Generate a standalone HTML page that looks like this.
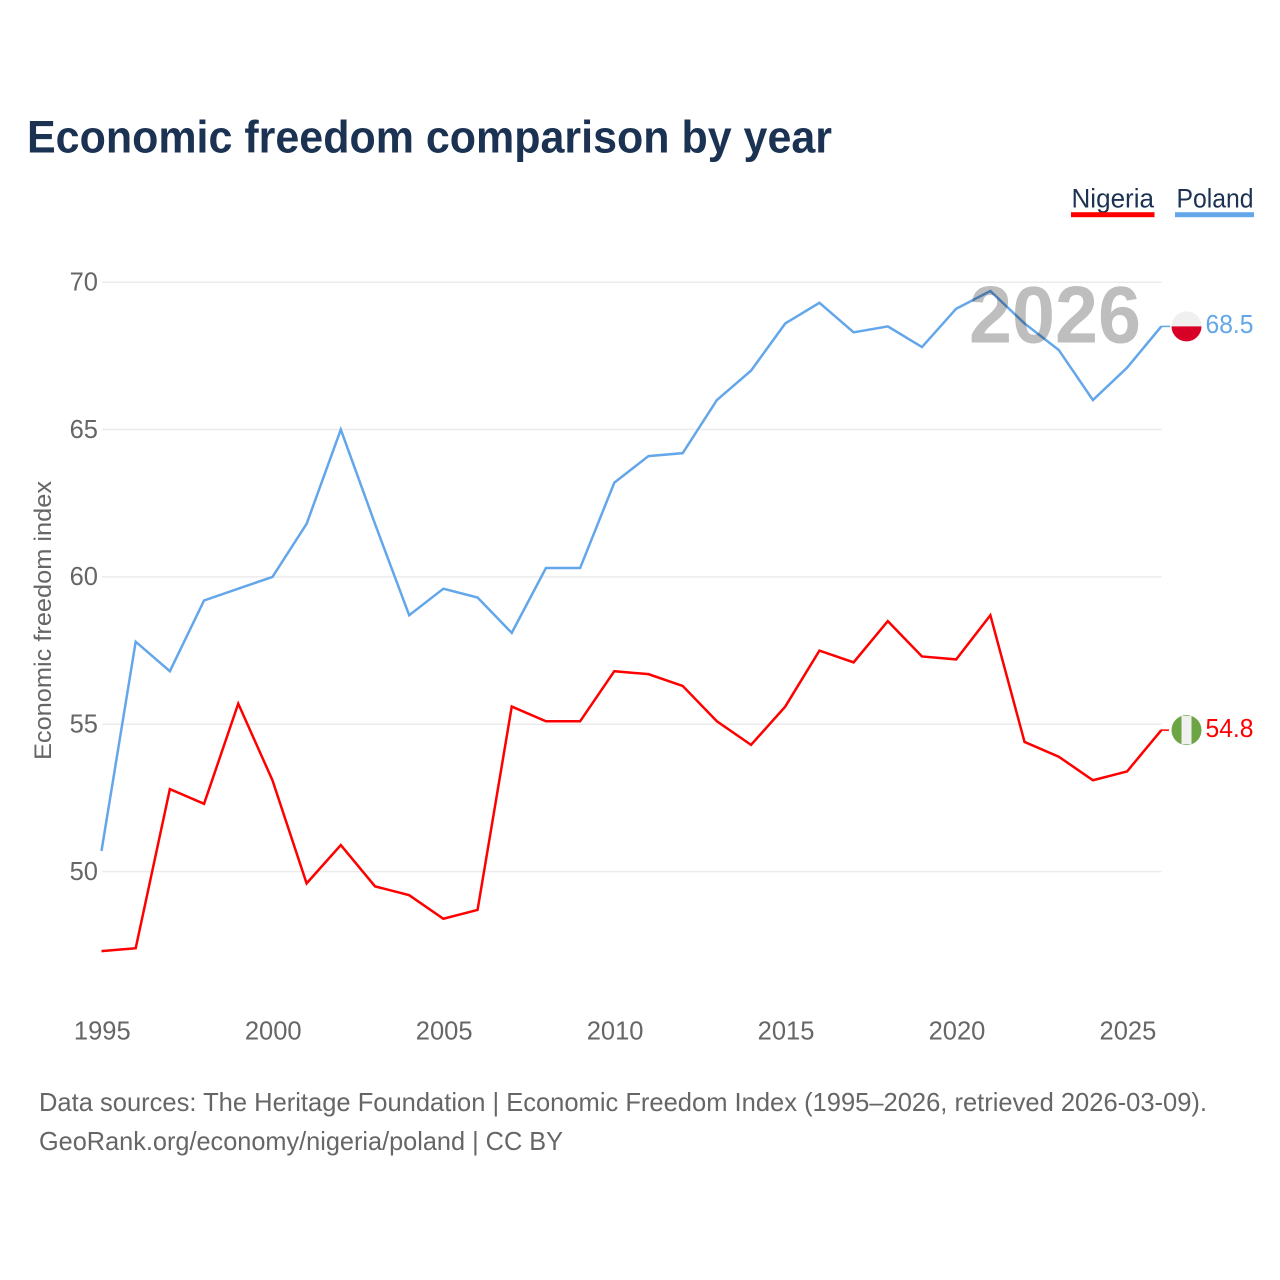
<!DOCTYPE html>
<html lang="en">
<head>
<meta charset="utf-8">
<title>Economic freedom comparison by year</title>
<style>
html,body{margin:0;padding:0;background:#fff;width:1280px;height:1280px;overflow:hidden}
svg{display:block;font-family:"Liberation Sans",sans-serif}
</style>
</head>
<body>
<svg id="chart" width="1280" height="1280" viewBox="0 0 1280 1280" xmlns="http://www.w3.org/2000/svg">
  <rect width="1280" height="1280" fill="#fff"/>
  <text x="27" y="152.5" font-size="45" font-weight="700" fill="#1b3252" textLength="805" lengthAdjust="spacingAndGlyphs">Economic freedom comparison by year</text>

  <g>
    <g>
      <text x="1071.5" y="207.5" font-size="27" fill="#1b3252" textLength="82.5" lengthAdjust="spacingAndGlyphs">Nigeria</text>
      <rect x="1071" y="212.2" width="83.5" height="5" fill="#ff0000"/>
    </g>
    <g>
      <text x="1176.5" y="207.5" font-size="27" fill="#1b3252" textLength="77" lengthAdjust="spacingAndGlyphs">Poland</text>
      <rect x="1175" y="212.2" width="79" height="5" fill="#63a6ea"/>
    </g>
  </g>

  <g id="grid"></g>
  <g id="yticks"></g>
  <g id="xticks"></g>
  <text transform="translate(51,760) rotate(-90)" font-size="24" fill="#666" textLength="279" lengthAdjust="spacingAndGlyphs">Economic freedom index</text>

  <g id="series"></g>

  <text x="969" y="342.5" font-size="81" font-weight="700" fill="#bebebe" style="mix-blend-mode:multiply" textLength="172" lengthAdjust="spacingAndGlyphs">2026</text>

  <g id="ends"></g>

  <text x="39" y="1111" font-size="26" fill="#666" textLength="1168" lengthAdjust="spacingAndGlyphs">Data sources: The Heritage Foundation | Economic Freedom Index (1995–2026, retrieved 2026-03-09).</text>
  <text x="39" y="1150" font-size="26" fill="#666" textLength="524" lengthAdjust="spacingAndGlyphs">GeoRank.org/economy/nigeria/poland | CC BY</text>
</svg>
<script>
const years = [1995,1996,1997,1998,1999,2000,2001,2002,2003,2004,2005,2006,2007,2008,2009,2010,2011,2012,2013,2014,2015,2016,2017,2018,2019,2020,2021,2022,2023,2024,2025,2026];
const polandValues = [50.7,57.8,56.8,59.2,59.6,60.0,61.8,65.0,61.8,58.7,59.6,59.3,58.1,60.3,60.3,63.2,64.1,64.2,66.0,67.0,68.6,69.3,68.3,68.5,67.8,69.1,69.7,68.6,67.7,66.0,67.1,68.5];
const nigeriaValues = [47.3,47.4,52.8,52.3,55.7,53.1,49.6,50.9,49.5,49.2,48.4,48.7,55.6,55.1,55.1,56.8,56.7,56.3,55.1,54.3,55.6,57.5,57.1,58.5,57.3,57.2,58.7,54.4,53.9,53.1,53.4,54.8];
const yTickValues = [50,55,60,65,70];
const xTickValues = [1995,2000,2005,2010,2015,2020,2025];

const NS = 'http://www.w3.org/2000/svg';
const xScale = function (year) { return 101.5 + (year - 1995) * (1161.3 - 101.5) / 31; };
const yScale = function (value) { return 871.6 - (value - 50) * (871.6 - 282.2) / 20; };
const make = function (tag, parent, props) {
  const el = document.createElementNS(NS, tag);
  for (const key in props) { el.setAttribute(key, props[key]); }
  parent.appendChild(el);
  return el;
};

const grid = document.getElementById('grid');
const yticks = document.getElementById('yticks');
const xticks = document.getElementById('xticks');
const series = document.getElementById('series');
const ends = document.getElementById('ends');

yTickValues.forEach(function (tick) {
  const line = make('line', grid, {x1: 102, x2: 1161.5, y1: yScale(tick), y2: yScale(tick), stroke: '#ebebeb', 'stroke-width': 1.5});
  
  
  const label = make('text', yticks, {x: 98, y: yScale(tick) + 8.3, 'text-anchor': 'end', 'font-size': 25.5, fill: '#666'});
  
  
  label.textContent = tick;
});

xTickValues.forEach(function (tick) {
  const label = make('text', xticks, {x: xScale(tick) + 0.8, y: 1039.5, 'text-anchor': 'middle', 'font-size': 25.5, fill: '#666'});
  
  
  label.textContent = tick;
});

const pointsFor = function (values) {
  return values.map(function (v, i) { return xScale(years[i]).toFixed(2) + ',' + yScale(v).toFixed(2); }).join(' ');
};

const polandLine = make('polyline', series, {points: pointsFor(polandValues), fill: 'none', stroke: '#63a6ea', 'stroke-width': 2.5, 'stroke-linejoin': 'miter'});



const nigeriaLine = make('polyline', series, {points: pointsFor(nigeriaValues), fill: 'none', stroke: '#ff0000', 'stroke-width': 2.5, 'stroke-linejoin': 'miter'});



// Poland end marker
const polandLast = polandValues[polandValues.length - 1];
const polandY = yScale(polandLast);
const polandConnector = make('line', ends, {x1: 1161, x2: 1170, y1: polandY, y2: polandY, stroke: '#63a6ea', 'stroke-width': 1.5});


const polandFlag = make('g', ends, {transform: 'translate(1186.5,' + polandY + ')'});


make('path', polandFlag, {d: 'M-15,0A15,15 0 0 1 15,0Z', fill: '#f0f0f0'});
make('path', polandFlag, {d: 'M-15,0A15,15 0 0 0 15,0Z', fill: '#d80027'});
const polandValueLabel = make('text', ends, {x: 1205.5, y: polandY + 6.8, 'font-size': 25.5, fill: '#63a6ea', textLength: 48, lengthAdjust: 'spacingAndGlyphs'});


polandValueLabel.textContent = polandLast.toFixed(1);

// Nigeria end marker
const nigeriaLast = nigeriaValues[nigeriaValues.length - 1];
const nigeriaY = yScale(nigeriaLast);
const nigeriaConnector = make('line', ends, {x1: 1161, x2: 1169, y1: nigeriaY, y2: nigeriaY, stroke: '#ff0000', 'stroke-width': 1.5});


const nigeriaFlag = make('g', ends, {transform: 'translate(1186.5,' + nigeriaY + ')'});


make('circle', nigeriaFlag, {r: 15, fill: '#6da544'});
make('rect', nigeriaFlag, {x: -5, y: -14.2, width: 10, height: 28.4, fill: '#f0f0f0'});
const nigeriaValueLabel = make('text', ends, {x: 1205.5, y: nigeriaY + 6.8, 'font-size': 25.5, fill: '#ff0000', textLength: 48, lengthAdjust: 'spacingAndGlyphs'});


nigeriaValueLabel.textContent = nigeriaLast.toFixed(1);
</script>
</body>
</html>
